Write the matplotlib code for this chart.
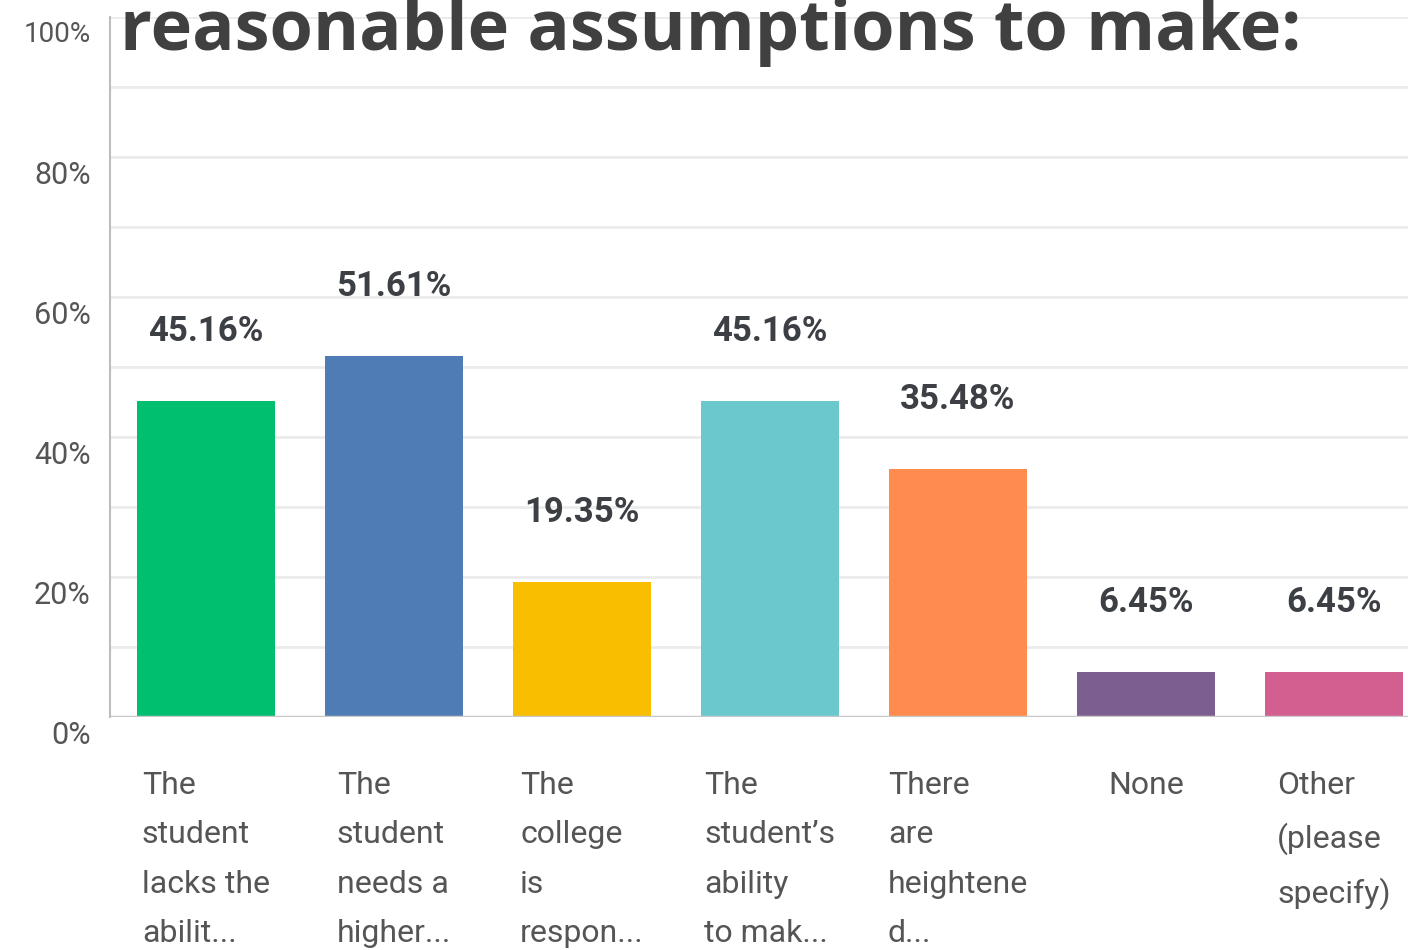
import matplotlib.pyplot as plt
import matplotlib.transforms as mtransforms

options = [
    'The\nstudent\nlacks the\nabilit...',
    'The\nstudent\nneeds a\nhigher...',
    'The\ncollege\nis\nrespon...',
    'The\nstudent\u2019s\nability\nto mak...',
    'There\nare\nheightene\nd...',
    'None',
    'Other\n(please\nspecify)',
]
shares = [45.16, 51.61, 19.35, 45.16, 35.48, 6.45, 6.45]
colors = ['#00bf6f', '#507cb6', '#f9be00', '#6bc8cd', '#ff8b4f', '#7d5e90', '#d25f90']
yticks = [0, 20, 40, 60, 80, 100]
title = 'reasonable assumptions to make:'

narrow = ['Roboto', 'DejaVu Sans']

fig = plt.figure(figsize=(14.08, 9.5), dpi=100)
ax = fig.add_axes([110 / 1408, 233 / 950, 1318 / 1408, 700 / 950])

x = list(range(len(shares)))
ax.bar(x, shares, width=0.73, color=colors, zorder=3)
ax.set_xlim(-0.51, 6.5)
ax.set_ylim(0, 100)

# light horizontal grid every 10%
for g in range(10, 101, 10):
    ax.axhline(g, color='#ebebeb', lw=2, zorder=1)
ax.axhline(0, color='#c8c8c8', lw=2.5, zorder=4)

for s in ['top', 'right', 'bottom']:
    ax.spines[s].set_visible(False)
ax.spines['left'].set_color('#bdbdbd')
ax.spines['left'].set_linewidth(1.5)

ax.set_yticks(yticks)
ax.set_yticklabels(['{}%'.format(t) for t in yticks], family=narrow,
                   fontsize=22, color='#555555')
ax.tick_params(axis='y', length=0, pad=14)
shift = mtransforms.ScaledTranslation(0, -15 / 100, fig.dpi_scale_trans)
for lab in ax.get_yticklabels():
    lab.set_transform(lab.get_transform() + shift)
ax.get_yticklabels()[-1].set_fontsize(20)

# wrapped category names under each bar, left aligned inside the block
ax.set_xticks([])
for i, lab in enumerate(options):
    ax.annotate(lab, (i, 0), xytext=(0, -39), textcoords='offset points',
                ha='center', va='top', multialignment='left',
                family=narrow, fontsize=23, color='#555555',
                linespacing=1.88, annotation_clip=False)

for i, v in enumerate(shares):
    ax.annotate('{:.2f}%'.format(v), (i, v), xytext=(0, 50),
                textcoords='offset points', ha='center', va='center',
                family=narrow, fontsize=25, fontweight='bold', color='#3c3f44')

fig.text(120 / 1408, 1 - 50 / 950, title, family=['Open Sans', 'DejaVu Sans'],
         fontsize=50.6, fontweight='bold', color='#404040', ha='left', va='baseline')

fig.savefig('out.png', dpi=100)
